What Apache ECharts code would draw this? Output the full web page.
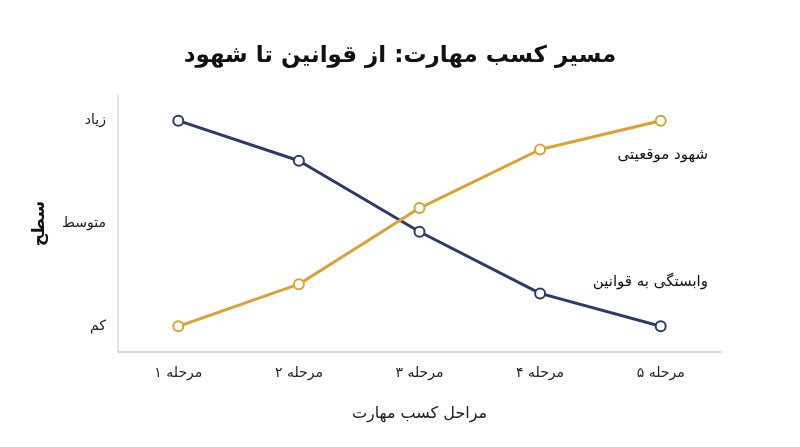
<!DOCTYPE html>
<html><head><meta charset="utf-8">
<script src="https://cdn.jsdelivr.net/npm/echarts@6/dist/echarts.min.js"></script>
<style>html,body{margin:0;padding:0;background:#fff}#c{width:800px;height:447px}</style>
</head><body><div id="c"></div>
<script>
const categories = ['مرحله ۱','مرحله ۲','مرحله ۳','مرحله ۴','مرحله ۵'];
const rulesDependence = [2, 1.61, 0.92, 0.32, 0];
const situationalIntuition = [0, 0.41, 1.15, 1.72, 2];
const levelLabels = {0:'کم',1:'متوسط',2:'زیاد'};
const font = 'DejaVu Sans';
const chart = echarts.init(document.getElementById('c'));
chart.setOption({
  animation:false,
  textStyle:{fontFamily:font},
  title:{text:'مسیر کسب مهارت: از قوانین تا شهود',left:'center',top:40,textStyle:{fontFamily:font,fontSize:23,fontWeight:'bold',color:'#111'}},
  grid:{left:118,right:79,top:95,bottom:95},
  xAxis:{type:'category',data:categories,boundaryGap:true,
    name:'مراحل کسب مهارت',nameLocation:'middle',nameGap:54,nameTextStyle:{fontSize:16,color:'#222',fontFamily:font},
    axisLine:{onZero:false,lineStyle:{color:'#ccc',width:1.5}},axisTick:{show:false},
    axisLabel:{fontSize:14,color:'#222',margin:14}},
  yAxis:{type:'value',min:-0.25,max:2.25,interval:0.25,
    name:'سطح',nameLocation:'middle',nameGap:70,nameRotate:90,nameTextStyle:{fontSize:17,fontWeight:'bold',color:'#111',fontFamily:font},
    axisLine:{show:true,lineStyle:{color:'#ddd',width:1.5}},axisTick:{show:false},splitLine:{show:false},
    axisLabel:{fontSize:14,color:'#222',margin:12,formatter:v=>levelLabels[Math.round(v*100)/100]||''}},
  series:[
    {name:'وابستگی به قوانین',type:'line',data:rulesDependence,symbol:'emptyCircle',symbolSize:10,
     lineStyle:{color:'#2e3a6e',width:3},itemStyle:{color:'#2e3a6e',borderWidth:2.5}},
    {name:'شهود موقعیتی',type:'line',data:situationalIntuition,symbol:'emptyCircle',symbolSize:10,
     lineStyle:{color:'#e0a030',width:3},itemStyle:{color:'#e0a030',borderWidth:2.5}}
  ],
  graphic:[
    {type:'text',right:92,top:148,style:{text:'شهود موقعیتی',font:'15px DejaVu Sans',fill:'#111'}},
    {type:'text',right:92,top:275,style:{text:'وابستگی به قوانین',font:'15px DejaVu Sans',fill:'#111'}}
  ]
});
</script></body></html>
